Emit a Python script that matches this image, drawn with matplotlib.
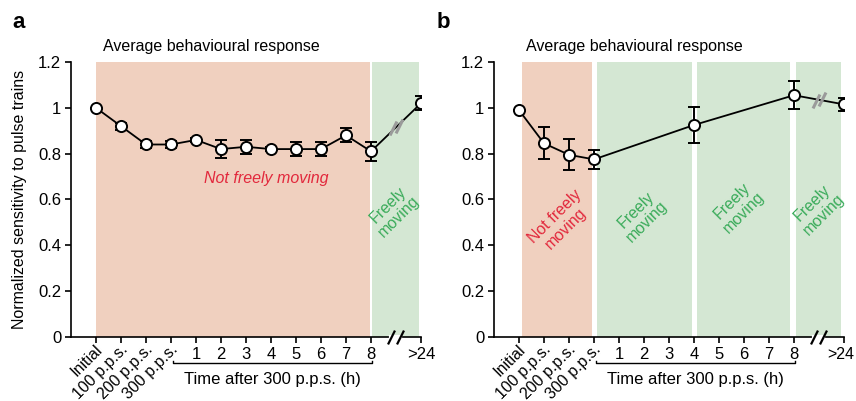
import matplotlib.pyplot as plt
import numpy as np
from matplotlib.path import Path
from matplotlib.transforms import ScaledTranslation

plt.rcParams['font.family'] = ['Liberation Sans', 'DejaVu Sans']
plt.rcParams['font.size'] = 10

# x positions: Initial, 100, 200, 300 p.p.s., 1..8 h, (break), >24
tick_pos = [0, 1, 2, 3, 4, 5, 6, 7, 8, 9, 10, 11, 13]
tick_lab = ["Initial", "100 p.p.s.", "200 p.p.s.", "300 p.p.s.",
            "1", "2", "3", "4", "5", "6", "7", "8", ">24"]

# Panel a
a_x = [0, 1, 2, 3, 4, 5, 6, 7, 8, 9, 10, 11, 13]
a_y = [1.0, 0.92, 0.84, 0.84, 0.86, 0.82, 0.83, 0.82, 0.82, 0.82, 0.88, 0.81, 1.02]
a_err = [0.0, 0.015, 0.015, 0.015, 0.01, 0.04, 0.03, 0.01, 0.03, 0.03, 0.03, 0.04, 0.03]

# Panel b
b_x = [0, 1, 2, 3, 7, 11, 13]
b_y = [0.99, 0.845, 0.795, 0.775, 0.925, 1.055, 1.015]
b_err = [0.0, 0.07, 0.067, 0.04, 0.078, 0.06, 0.03]

# shaded regions (start, end, kind)
a_regions = [(0.0, 10.95, "not"), (11.05, 12.9, "free")]
b_regions = [(0.1, 2.9, "not"), (3.1, 6.9, "free"), (7.1, 10.85, "free"), (11.1, 12.9, "free")]

# region labels (x, y, text, kind, rotation)
a_texts = [(6.8, 0.69, "Not freely moving", "not", 0), (11.9, 0.55, "Freely\nmoving", "free", 45)]
b_texts = [(1.65, 0.50, "Not freely\nmoving", "not", 45), (4.9, 0.53, "Freely\nmoving", "free", 45),
           (8.75, 0.57, "Freely\nmoving", "free", 45), (11.95, 0.56, "Freely\nmoving", "free", 45)]

pink = "#f0d0bf"
green = "#d4e7d3"
red_txt = "#e2283c"
green_txt = "#3aab5a"

slash = Path([(-0.5, -1.0), (0.5, 1.0)], [Path.MOVETO, Path.LINETO])

fig = plt.figure(figsize=(8.56, 4.01), dpi=100)
ax_a = fig.add_axes([71/856, 64/401, 350/856, 275/401])
ax_b = fig.add_axes([494/856, 64/401, 350/856, 275/401])


def panel(ax, xs, ys, errs, regions, texts, letter, lx):
    for x0, x1, kind in regions:
        ax.axvspan(x0, x1, ymin=0, ymax=1, color=pink if kind == "not" else green, lw=0, zorder=0)
    for x, y, t, kind, rot in texts:
        ax.text(x, y, t, color=red_txt if kind == "not" else green_txt, rotation=rot,
                ha="center", va="center", fontsize=11.5, style="italic" if rot == 0 else "normal",
                linespacing=1.1)
    ax.plot(xs, ys, color="black", lw=1.3, zorder=2)
    # gray break on last segment
    mx = (xs[-2] + xs[-1]) / 2
    my = (ys[-2] + ys[-1]) / 2
    ax.plot([mx - 0.12, mx + 0.12], [my - 0.005, my + 0.005], ls="none", marker=slash, ms=10,
            mew=2.2, mec="#9a9a9a", zorder=3)
    ax.errorbar(xs, ys, yerr=errs, fmt="o", color="black", ms=8, mfc="white", mec="black",
                mew=1.4, elinewidth=1.4, capsize=4, capthick=1.4, zorder=4)

    ax.set_xlim(-1, 13)
    ax.set_ylim(0, 1.2)
    for s in ["top", "right"]:
        ax.spines[s].set_visible(False)
    ax.spines["left"].set_linewidth(1.2)
    ax.spines["bottom"].set_linewidth(1.2)
    ax.set_yticks([0, 0.2, 0.4, 0.6, 0.8, 1.0, 1.2])
    ax.set_yticklabels(["0", "0.2", "0.4", "0.6", "0.8", "1", "1.2"], fontsize=12)
    ax.set_xticks(tick_pos)
    ax.set_xticklabels(tick_lab, fontsize=12)
    ax.tick_params(direction="out", length=4, width=1.2, pad=3)
    shift = ScaledTranslation(3/72, 0, fig.dpi_scale_trans)
    for lab in ax.get_xticklabels()[:4]:
        lab.set_rotation(45)
        lab.set_ha("right")
        lab.set_va("center")
        lab.set_rotation_mode("anchor")
        lab.set_fontsize(11.5)
        lab.set_transform(lab.get_transform() + shift)

    # axis break
    ax.plot([11.8, 12.15], [0, 0], color="white", lw=3, clip_on=False, zorder=5)
    ax.plot([11.8, 12.15], [0, 0], ls="none", marker=slash, ms=10, mew=1.6, mec="black",
            clip_on=False, zorder=6)

    # bracket for time after 300 p.p.s.
    ax.plot([3.08, 3.08, 11.04, 11.04], [-0.105, -0.115, -0.115, -0.105], color="black",
            lw=1.0, clip_on=False)
    ax.text(7.04, -0.185, "Time after 300 p.p.s. (h)", ha="center", va="center", fontsize=12)

    ax.set_title("Average behavioural response", fontsize=11.5, pad=8, x=0.4)
    fig.text(lx, 0.945, letter, fontsize=16, fontweight="bold", ha="left", va="center")


panel(ax_a, a_x, a_y, a_err, a_regions, a_texts, "a", 12/856)
panel(ax_b, b_x, b_y, b_err, b_regions, b_texts, "b", 437/856)
ax_a.set_ylabel("Normalized sensitivity to pulse trains", fontsize=11.5, labelpad=8)

# keep the last ">24" label of panel b inside the figure
last = ax_b.get_xticklabels()[-1]
last.set_fontsize(11.5)
last.set_transform(last.get_transform() + ScaledTranslation(-2/72, 0, fig.dpi_scale_trans))

fig.savefig("out.png", dpi=100)
